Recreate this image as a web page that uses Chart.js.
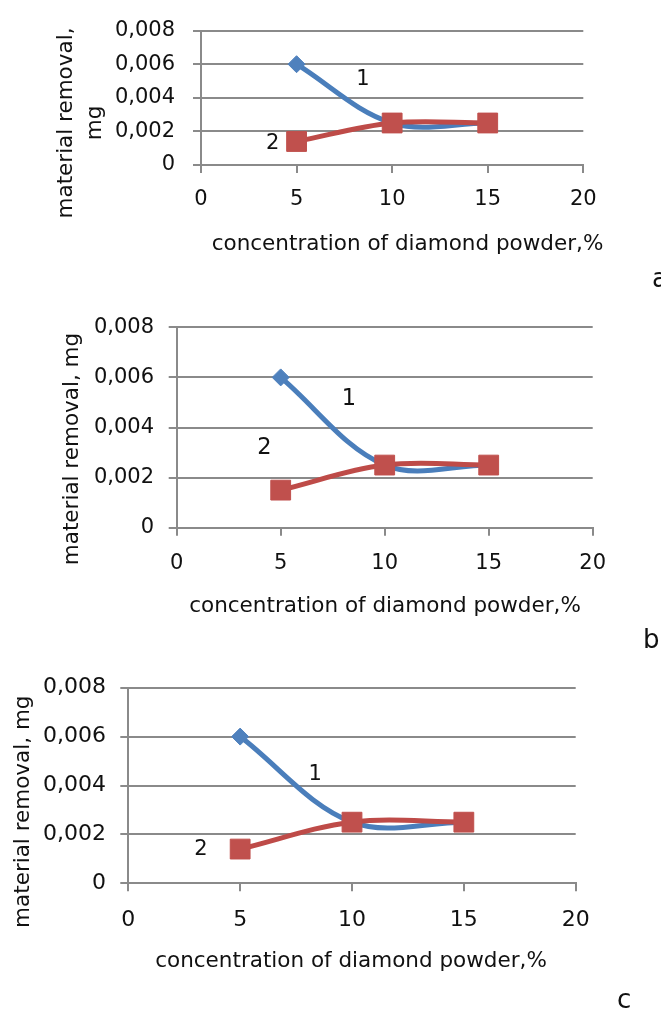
<!DOCTYPE html>
<html>
<head>
<meta charset="utf-8">
<script src="https://cdn.jsdelivr.net/npm/chart.js@4.4.1/dist/chart.umd.min.js"></script>
<style>
  html, body { margin: 0; padding: 0; background: #ffffff; }
  #page { position: relative; width: 661px; height: 1012px; overflow: hidden; background: #ffffff; }
  .panel { position: absolute; left: 0; width: 661px; }
  .panel canvas { display: block; }
</style>
</head>
<body>
<div id="page">
  <div class="panel" style="top:0px;height:300px"><canvas id="chartA" width="661" height="300"></canvas></div>
  <div class="panel" style="top:300px;height:355px"><canvas id="chartB" width="661" height="355"></canvas></div>
  <div class="panel" style="top:655px;height:357px"><canvas id="chartC" width="661" height="357"></canvas></div>
</div>
<script>
// Diamond powder concentration, % (x values shared by every curve)
const concentration = [5, 10, 15];

// Material removal, mg — curve 1 and curve 2 of each panel
const removalA1 = [0.006, 0.0025, 0.0025];
const removalA2 = [0.0014, 0.0025, 0.0025];
const removalB1 = [0.006, 0.0025, 0.0025];
const removalB2 = [0.0015, 0.0025, 0.0025];
const removalC1 = [0.006, 0.0025, 0.0025];
const removalC2 = [0.0014, 0.0025, 0.0025];

// Axis ticks
const xTicks = [0, 5, 10, 15, 20];
const yTicks = [0, 0.002, 0.004, 0.006, 0.008];
const yTickLabels = ['0', '0,002', '0,004', '0,006', '0,008'];

// Texts
const xTitle = 'concentration of diamond powder,%';
const yTitleTwoLines = ['material removal,', 'mg'];
const yTitleOneLine = ['material removal, mg'];
const curveNames = ['1', '2'];
const panelLetters = ['a', 'b', 'c'];

const FONT = '"DejaVu Sans", "Liberation Sans", sans-serif';
const TEXT_COLOR = '#111111';
const GRID_COLOR = '#8a8a8a';
const BLUE_LINE = '#4a7ebb';
const BLUE_FILL = '#4f81bd';
const RED_LINE = '#be4b48';
const RED_FILL = '#c0504d';

// Draws axis titles, curve numbers and the panel letter
const panelCaptions = {
  id: 'panelCaptions',
  afterDraw(chart, args, o) {
    const ctx = chart.ctx;
    const xs = chart.scales.x, ys = chart.scales.y;
    const dy = o.offsetTop;
    ctx.save();
    ctx.fillStyle = TEXT_COLOR;

    // vertical axis title
    ctx.font = o.titleSize + 'px ' + FONT;
    ctx.textAlign = 'center';
    ctx.textBaseline = 'alphabetic';
    o.yTitle.forEach((line, i) => {
      ctx.save();
      ctx.translate(o.yTitleBaselines[i], o.yTitleCenter - dy);
      ctx.rotate(-Math.PI / 2);
      ctx.fillText(line, 0, 0);
      ctx.restore();
    });

    // horizontal axis title
    ctx.fillText(o.xTitle, o.xTitleCenter, o.xTitleBaseline - dy);

    // curve numbers, anchored in data coordinates
    ctx.font = o.curveSize + 'px ' + FONT;
    ctx.textBaseline = 'middle';
    o.curveAt.forEach((p, i) => {
      ctx.fillText(curveNames[i], xs.getPixelForValue(p[0]), ys.getPixelForValue(p[1]));
    });

    // panel letter
    ctx.font = o.letterSize + 'px ' + FONT;
    ctx.textAlign = 'left';
    ctx.textBaseline = 'alphabetic';
    ctx.fillText(o.letter, o.letterX, o.letterBaseline - dy);
    ctx.restore();
  }
};

const panels = [
  {
    id: 'chartA', top: 0, height: 300,
    area: { left: 201, right: 583.3, top: 19.3, bottom: 165 },
    s1: removalA1, s2: removalA2,
    tickSize: 21, yTickPad: 18, xTickPad: 14,
    yTitle: yTitleTwoLines, yTitleBaselines: [72, 101], yTitleCenter: 123,
    xTitleCenter: 407.5, xTitleBaseline: 250,
    curveSize: 21, curveAt: [[8.47, 0.0051], [3.75, 0.00127]],
    letter: panelLetters[0], letterX: 652, letterBaseline: 287
  },
  {
    id: 'chartB', top: 300, height: 355,
    area: { left: 176.7, right: 592.7, top: 325.3, bottom: 527.7 },
    s1: removalB1, s2: removalB2,
    tickSize: 21, yTickPad: 14.7, xTickPad: 15,
    yTitle: yTitleOneLine, yTitleBaselines: [78], yTitleCenter: 449,
    xTitleCenter: 385, xTitleBaseline: 611.7,
    curveSize: 22.5, curveAt: [[8.28, 0.00514], [4.22, 0.00318]],
    letter: panelLetters[1], letterX: 643, letterBaseline: 648
  },
  {
    id: 'chartC', top: 655, height: 357,
    area: { left: 128.3, right: 575.7, top: 687.7, bottom: 883.3 },
    s1: removalC1, s2: removalC2,
    tickSize: 22, yTickPad: 14.3, xTickPad: 15.4,
    yTitle: yTitleOneLine, yTitleBaselines: [29], yTitleCenter: 811.7,
    xTitleCenter: 351, xTitleBaseline: 966.7,
    curveSize: 21, curveAt: [[8.35, 0.00443], [3.25, 0.00138]],
    letter: panelLetters[2], letterX: 617, letterBaseline: 1008
  }
];

panels.forEach(p => {
  const tickFont = { family: FONT, size: p.tickSize };
  new Chart(document.getElementById(p.id), {
    type: 'line',
    data: {
      datasets: [
        {
          data: concentration.map((c, i) => ({ x: c, y: p.s1[i] })),
          borderColor: BLUE_LINE,
          borderWidth: 5,
          tension: 0.35,
          pointStyle: 'rectRot',
          pointRadius: 8.5,
          pointBackgroundColor: BLUE_FILL,
          pointBorderColor: BLUE_FILL,
          pointBorderWidth: 1,
          fill: false,
          order: 1
        },
        {
          data: concentration.map((c, i) => ({ x: c, y: p.s2[i] })),
          borderColor: RED_LINE,
          borderWidth: 5,
          tension: 0.35,
          pointStyle: 'rect',
          pointRadius: 14,
          pointBackgroundColor: RED_FILL,
          pointBorderColor: RED_FILL,
          pointBorderWidth: 1,
          fill: false,
          order: 0
        }
      ]
    },
    options: {
      responsive: false,
      animation: false,
      events: [],
      layout: {
        padding: { left: 0, top: p.area.top - p.top, right: 661 - p.area.right, bottom: 0 }
      },
      plugins: {
        legend: { display: false },
        tooltip: { enabled: false },
        panelCaptions: {
          offsetTop: p.top,
          titleSize: 21.5,
          yTitle: p.yTitle, yTitleBaselines: p.yTitleBaselines, yTitleCenter: p.yTitleCenter,
          xTitle: xTitle, xTitleCenter: p.xTitleCenter, xTitleBaseline: p.xTitleBaseline,
          curveSize: p.curveSize, curveAt: p.curveAt,
          letter: p.letter, letterSize: 26, letterX: p.letterX, letterBaseline: p.letterBaseline
        }
      },
      scales: {
        x: {
          type: 'linear',
          min: xTicks[0],
          max: xTicks[xTicks.length - 1],
          afterBuildTicks: s => { s.ticks = xTicks.map(v => ({ value: v })); },
          afterFit: s => { s.height = p.height - (p.area.bottom - p.top); },
          grid: { drawOnChartArea: false, drawTicks: true, tickLength: 8, color: GRID_COLOR, lineWidth: 2 },
          border: { display: true, color: GRID_COLOR, width: 2 },
          ticks: { font: tickFont, color: TEXT_COLOR, padding: p.xTickPad, maxRotation: 0, autoSkip: false }
        },
        y: {
          type: 'linear',
          min: yTicks[0],
          max: yTicks[yTicks.length - 1],
          afterBuildTicks: s => { s.ticks = yTicks.map(v => ({ value: v })); },
          afterFit: s => { s.width = p.area.left; },
          grid: { drawOnChartArea: true, drawTicks: true, tickLength: 8, color: GRID_COLOR, lineWidth: 2 },
          border: { display: true, color: GRID_COLOR, width: 2 },
          ticks: {
            font: tickFont, color: TEXT_COLOR, padding: p.yTickPad, autoSkip: false,
            callback: v => yTickLabels[yTicks.indexOf(v)]
          }
        }
      }
    },
    plugins: [panelCaptions]
  });
});
</script>
</body>
</html>
